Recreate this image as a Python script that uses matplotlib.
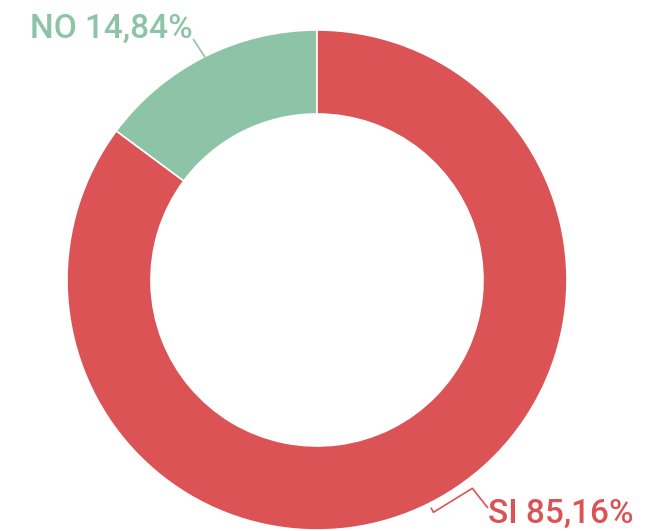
import matplotlib.pyplot as plt
import numpy as np

labels = ["NO", "SI"]
shares = [14.84, 85.16]
colors = ["#8dc4a8", "#dc5356"]

W, H = 646, 531
cx, cy = 317, H - 280
R = 250
ring = 84

fig = plt.figure(figsize=(W / 100, H / 100), dpi=100)
ax = fig.add_axes([0, 0, 1, 1])
ax.pie(shares, colors=colors, startangle=90, counterclock=True,
       radius=R, center=(cx, cy),
       wedgeprops=dict(width=ring, edgecolor="white", linewidth=1.2))
ax.set_xlim(0, W)
ax.set_ylim(0, H)
ax.set_aspect("equal")
ax.axis("off")

# labels with leader lines from the middle of each slice
font = dict(family=["Roboto", "DejaVu Sans"], fontsize=24, fontweight="medium")
start = 90
for lab, val, col in zip(labels, shares, colors):
    mid = np.deg2rad(start + val * 3.6 / 2)
    start += val * 3.6
    ex, ey = cx + R * np.cos(mid), cy + R * np.sin(mid)
    text = f"{lab} {val:.2f}%".replace(".", ",")
    if np.sin(mid) > 0 and np.cos(mid) < 0:
        ax.plot([ex, ex - 11], [ey, ey + 17], color=col, lw=1.2)
        ax.text(ex - 12, ey + 19, text, color=col, ha="right", va="baseline", **font)
    else:
        xs = [ex + 2, ex + 4, ex + 43, ex + 58]
        ys = [ey - 5, ey - 9, ey + 15, ey - 4]
        ax.plot(xs, ys, color=col, lw=1.2)
        ax.text(ex + 59, ey - 19, text, color=col, ha="left", va="baseline", **font)

fig.savefig("out.png", dpi=100)
